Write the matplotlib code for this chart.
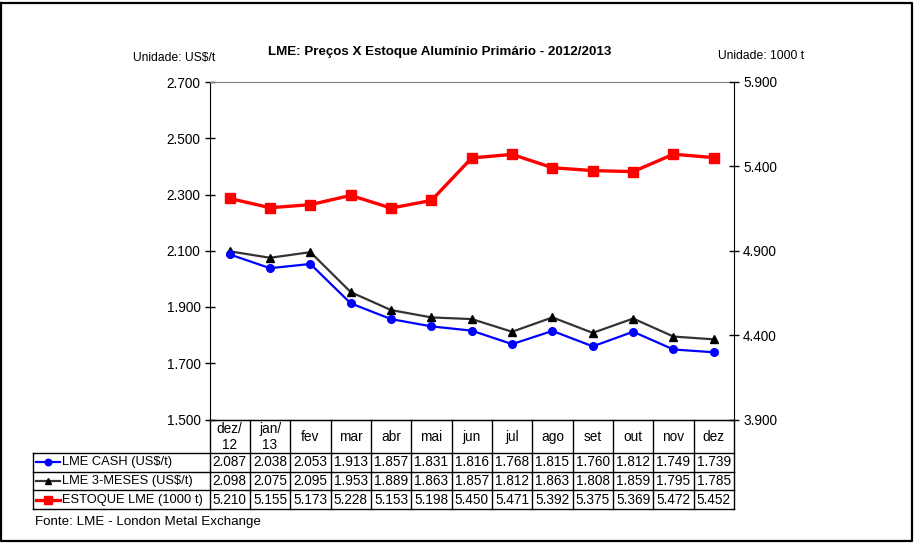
import matplotlib
matplotlib.use("Agg")
import matplotlib.pyplot as plt
from matplotlib.ticker import FuncFormatter

plt.rcParams['font.family'] = ['Liberation Sans', 'DejaVu Sans']

# ----- data -----
months = ["dez/\n12", "jan/\n13", "fev", "mar", "abr", "mai", "jun",
          "jul", "ago", "set", "out", "nov", "dez"]
cash = [2087, 2038, 2053, 1913, 1857, 1831, 1816, 1768, 1815, 1760, 1812, 1749, 1739]
tres_meses = [2098, 2075, 2095, 1953, 1889, 1863, 1857, 1812, 1863, 1808, 1859, 1795, 1785]
estoque = [5210, 5155, 5173, 5228, 5153, 5198, 5450, 5471, 5392, 5375, 5369, 5472, 5452]

series_names = ["LME CASH (US$/t)", "LME 3-MESES (US$/t)", "ESTOQUE LME (1000 t)"]
series_vals = [cash, tres_meses, estoque]
series_style = [
    dict(color="#0000FF", lw=1.6, marker="o", ms=5.5, mfc="#0000FF", mec="#0000FF"),
    dict(color="#333333", lw=1.6, marker="^", ms=5.5, mfc="black", mec="black"),
    dict(color="#FF0000", lw=2.4, marker="s", ms=6.5, mfc="#FF0000", mec="#FF0000"),
]

left_ticks = [1500, 1700, 1900, 2100, 2300, 2500, 2700]
right_ticks = [3900, 4400, 4900, 5400, 5900]


def fmt(v, pos=None):
    return f"{int(v):,}".replace(",", ".")


W, H = 916, 544
fig = plt.figure(figsize=(W / 100, H / 100), dpi=100)

# ----- layout (pixels) -----
px0, px1 = 209.5, 734.0   # plot area left/right
py0, py1 = 82.0, 419.5    # plot area top/bottom
leg_x0 = 32.5              # table legend column left edge
row_y = [419.5, 452.5, 471.5, 490.0, 509.0]  # table horizontal lines
ncol = len(months)
cw = (px1 - px0) / ncol

# canvas axes in pixel coordinates for frame/table
cv = fig.add_axes([0, 0, 1, 1])
cv.set_xlim(0, W)
cv.set_ylim(H, 0)
cv.axis("off")

# outer frame
cv.plot([1, 912, 912, 1, 1], [3, 3, 541, 541, 3], color="black", lw=1.6)

# main plot
ax = fig.add_axes([px0 / W, 1 - py1 / H, (px1 - px0) / W, (py1 - py0) / H])
ax.set_facecolor("none")
x = list(range(ncol))
ax.plot(x, cash, **series_style[0], zorder=3)
ax.plot(x, tres_meses, **series_style[1], zorder=2)
ax.set_xlim(-0.5, ncol - 0.5)
ax.set_ylim(1500, 2700)
ax.set_yticks(left_ticks)
ax.yaxis.set_major_formatter(FuncFormatter(fmt))
ax.set_xticks([])
ax.tick_params(axis="y", direction="inout", length=7, width=1, labelsize=9.8, pad=3)
ax.spines["top"].set_color("#808080")
for s in ["left", "bottom"]:
    ax.spines[s].set_color("black")
ax.spines["right"].set_visible(False)

ax2 = ax.twinx()
ax2.plot(x, estoque, **series_style[2], zorder=4)
ax2.set_ylim(3900, 5900)
ax2.set_yticks(right_ticks)
ax2.yaxis.set_major_formatter(FuncFormatter(fmt))
ax2.tick_params(axis="y", direction="inout", length=7, width=1, labelsize=9.8, pad=3)
ax2.spines["right"].set_color("black")
ax2.spines["top"].set_visible(False)
ax2.spines["left"].set_visible(False)
ax2.spines["bottom"].set_visible(False)

# ----- data table -----
lw = 1.0
# horizontal lines
cv.plot([px0, px1], [row_y[0], row_y[0]], color="black", lw=lw)
for y in row_y[1:]:
    cv.plot([leg_x0, px1], [y, y], color="black", lw=lw)
# vertical lines
for i in range(ncol + 1):
    xx = px0 + i * cw
    cv.plot([xx, xx], [row_y[0], row_y[-1]], color="black", lw=lw)
cv.plot([leg_x0, leg_x0], [row_y[1], row_y[-1]], color="black", lw=lw)

# header
for i, m in enumerate(months):
    cv.text(px0 + (i + 0.5) * cw, (row_y[0] + row_y[1]) / 2 + 1, m,
            ha="center", va="center", fontsize=9.8, linespacing=1.2)

# rows
for r, (name, vals, st) in enumerate(zip(series_names, series_vals, series_style)):
    yc = (row_y[r + 1] + row_y[r + 2]) / 2
    cv.plot([36, 60], [yc, yc], color=st["color"], lw=st["lw"])
    cv.plot([48], [yc], marker=st["marker"], ms=st["ms"] * 0.85,
            mfc=st["mfc"], mec=st["mec"], color=st["color"])
    cv.text(61.5, yc, name, ha="left", va="center", fontsize=9.3)
    for i, v in enumerate(vals):
        cv.text(px0 + (i + 0.5) * cw, yc, fmt(v), ha="center", va="center",
                fontsize=9.8)

# ----- titles and notes -----
cv.text(440, 52, "LME: Preços X Estoque Alumínio Primário - 2012/2013",
        ha="center", va="center", fontsize=9.6, fontweight="bold")
cv.text(133, 58, "Unidade: US$/t", ha="left", va="center", fontsize=8.7)
cv.text(718, 56, "Unidade: 1000 t", ha="left", va="center", fontsize=8.7)
cv.text(35, 522, "Fonte: LME - London Metal Exchange", ha="left", va="center",
        fontsize=9.6)

fig.savefig("out.png", dpi=100)
